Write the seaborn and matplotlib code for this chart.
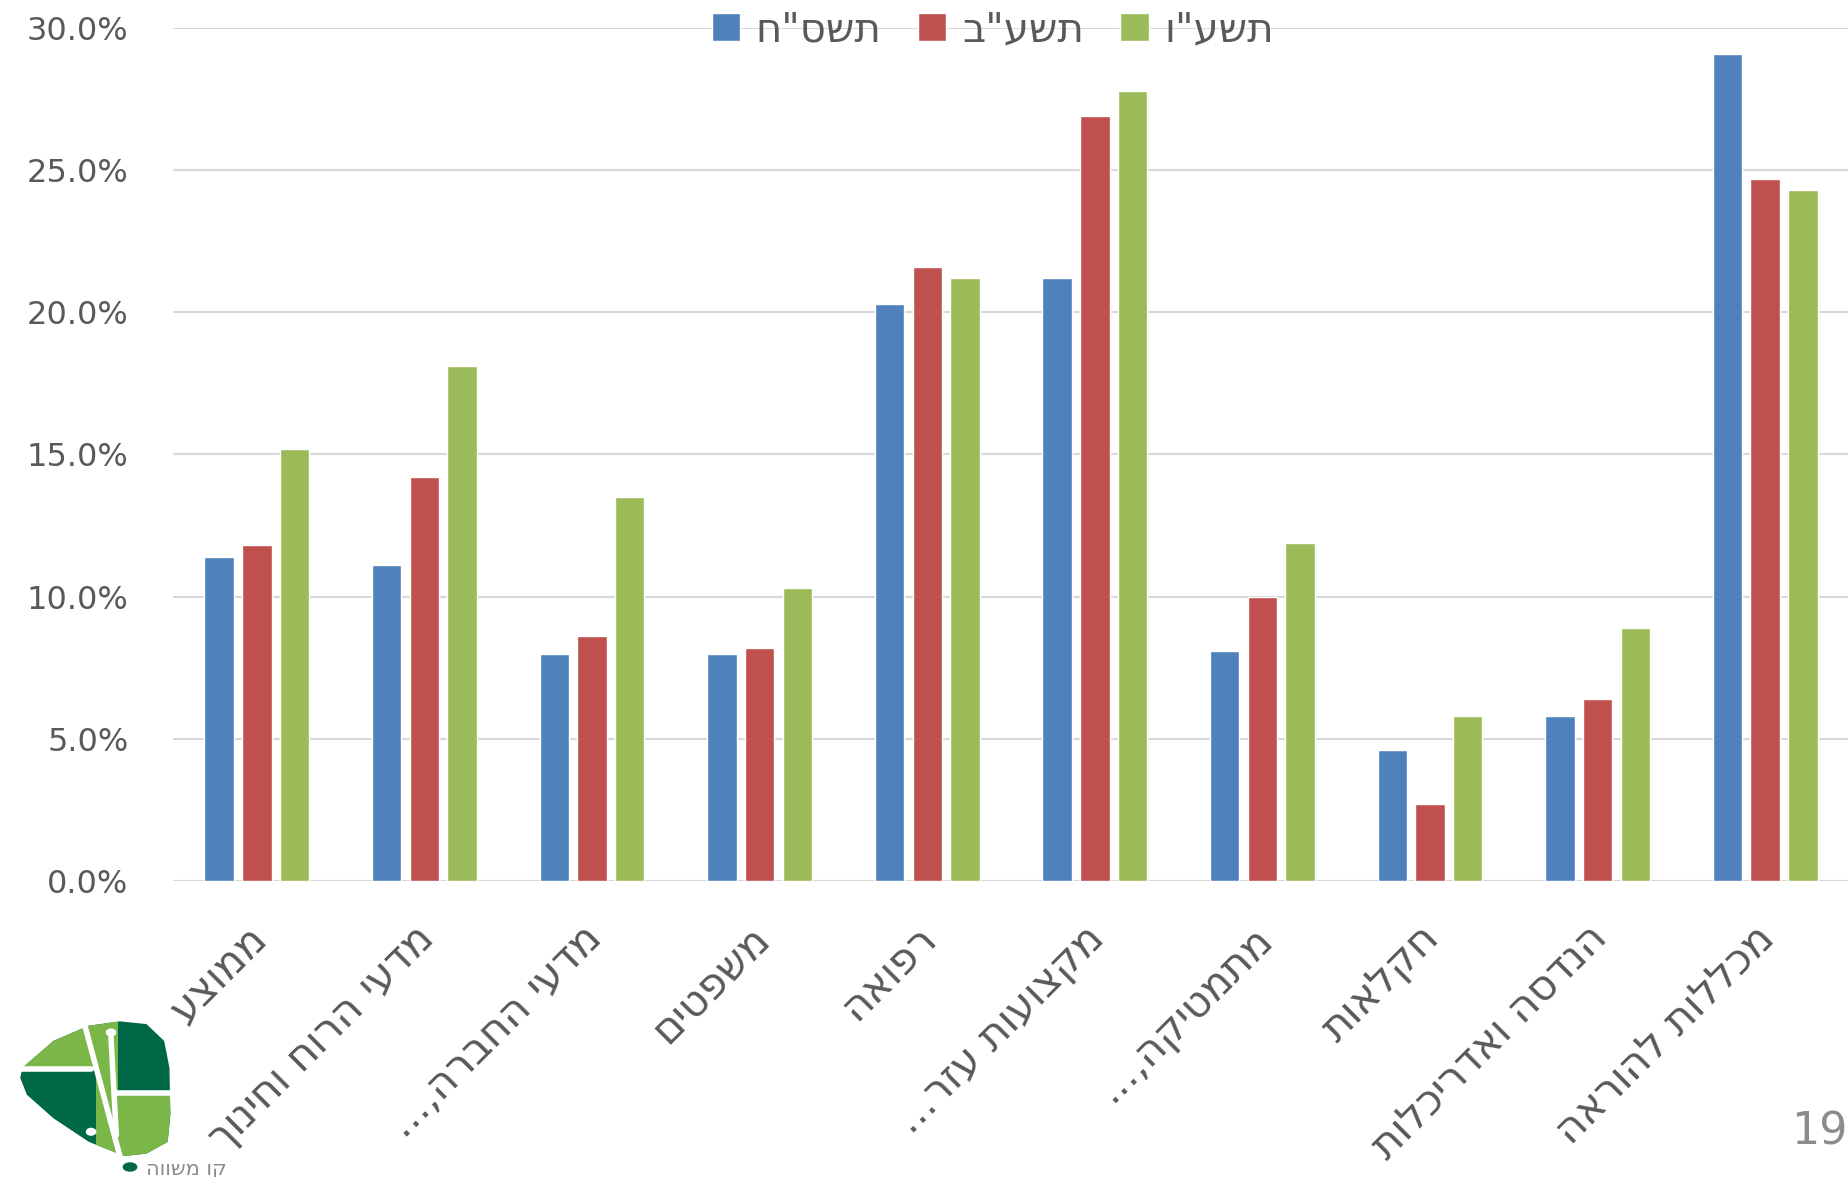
import matplotlib
matplotlib.use("Agg")
import matplotlib.pyplot as plt
import matplotlib.transforms as mtransforms
import seaborn as sns
import pandas as pd
from matplotlib.patches import Polygon, Rectangle, Circle

# data (percent), labels kept in logical (RTL) order
categories = ["ממוצע", "מדעי הרוח וחינוך", "מדעי החברה,...", "משפטים", "רפואה",
              "מקצועות עזר...", "מתמטיקה,...", "חקלאות", "הנדסה ואדריכלות", "מכללות להוראה"]
years = ['תשס"ח', 'תשע"ב', 'תשע"ו']
vals_tashsach = [11.4, 11.1, 8.0, 8.0, 20.3, 21.2, 8.1, 4.6, 5.8, 29.1]
vals_tashab = [11.8, 14.2, 8.6, 8.2, 21.6, 26.9, 10.0, 2.7, 6.4, 24.7]
vals_tashav = [15.2, 18.1, 13.5, 10.3, 21.2, 27.8, 11.9, 5.8, 8.9, 24.3]
colors = ["#4F81BD", "#C0504D", "#9BBB59"]


def rtl(s):
    # matplotlib has no bidi support, so flip Hebrew strings for display
    return s[::-1]


sns.set_style("white")
plt.rcParams['font.family'] = ['DejaVu Sans']

df = pd.DataFrame({
    "field": categories * 3,
    "year": [years[0]] * 10 + [years[1]] * 10 + [years[2]] * 10,
    "value": vals_tashsach + vals_tashab + vals_tashav,
})

fig = plt.figure(figsize=(18.49, 11.77), dpi=100)
ax = fig.add_axes([0.0936, 0.2515, 0.9064, 0.7247])

sns.barplot(data=df, x="field", y="value", hue="year", order=categories, hue_order=years,
            palette=colors, saturation=1, width=0.675, gap=0.22, ax=ax, zorder=3)

ax.set_ylim(0, 30)
ax.set_xlim(-0.5, 9.5)
ax.set_yticks(range(0, 31, 5))
ax.set_yticklabels([f"{v:.1f}%" for v in range(0, 31, 5)])
ax.yaxis.grid(True, color="#D9D9D9", lw=1.5, zorder=0)
ax.set_axisbelow(True)
for s in ax.spines.values():
    s.set_visible(False)
ax.set_xlabel("")
ax.set_ylabel("")
ax.tick_params(axis="y", length=0, pad=32, labelsize=23, labelcolor="#595959")
ax.tick_params(axis="x", length=0, pad=26, labelsize=30, labelcolor="#595959")
ax.set_xticks(range(len(categories)))
ax.set_xticklabels([rtl(c) for c in categories], rotation=45, ha="right",
                   rotation_mode="anchor")
shift = mtransforms.ScaledTranslation(-12 / 100, 0, fig.dpi_scale_trans)
for lab in ax.get_xticklabels():
    lab.set_transform(lab.get_transform() + shift)

handles, _ = ax.get_legend_handles_labels()
ax.legend(handles, [rtl(y) for y in years], loc="center",
          bbox_to_anchor=(0.537, 1 - 30 / 1177), bbox_transform=fig.transFigure,
          ncol=3, frameon=False, fontsize=29, handlelength=0.7, handleheight=0.7,
          handletextpad=0.4, columnspacing=0.9, labelcolor="#595959")

# page number
fig.text(1819 / 1849, 1 - 1132 / 1177, "19", ha="center", va="center",
         fontsize=32, color="#8C8C8C")

# rough logo in the bottom-left corner
lax = fig.add_axes([18 / 1849, 1 - 1157 / 1177, 155 / 1849, 137 / 1177])
lax.set_xlim(40, 390)
lax.set_ylim(765, 358)
lax.axis("off")
outline = [(50, 500), (120, 420), (200, 375), (270, 362), (330, 370), (370, 420),
           (382, 500), (384, 640), (378, 720), (330, 755), (280, 762), (200, 720),
           (120, 650), (60, 580), (45, 530)]
shape = Polygon(outline, closed=True, fc="#006747", ec="none")
lax.add_patch(shape)
for rect in [Rectangle((0, 300), 215, 210), Rectangle((265, 575), 140, 250),
             Rectangle((215, 360), 50, 420)]:
    rect.set_facecolor("#7AB648")
    rect.set_edgecolor("none")
    lax.add_patch(rect)
    rect.set_clip_path(shape)
lax.plot([45, 205], [505, 505], color="white", lw=4)
lax.plot([262, 385], [575, 575], color="white", lw=4)
lax.plot([190, 270], [370, 762], color="white", lw=4)
lax.plot([250, 262], [410, 700], color="white", lw=4)
lax.add_patch(Circle((250, 395), 12, fc="white", ec="none"))
lax.add_patch(Circle((205, 690), 12, fc="white", ec="none"))

fig.text(186 / 1849, 0.002, rtl("קו משווה"), fontsize=15, color="#8C8C8C", ha="center")
fig.add_artist(Circle((130 / 1849, 10 / 1177), 0.004, transform=fig.transFigure,
                      fc="#006747", ec="none"))

fig.savefig("out.png", dpi=100)
